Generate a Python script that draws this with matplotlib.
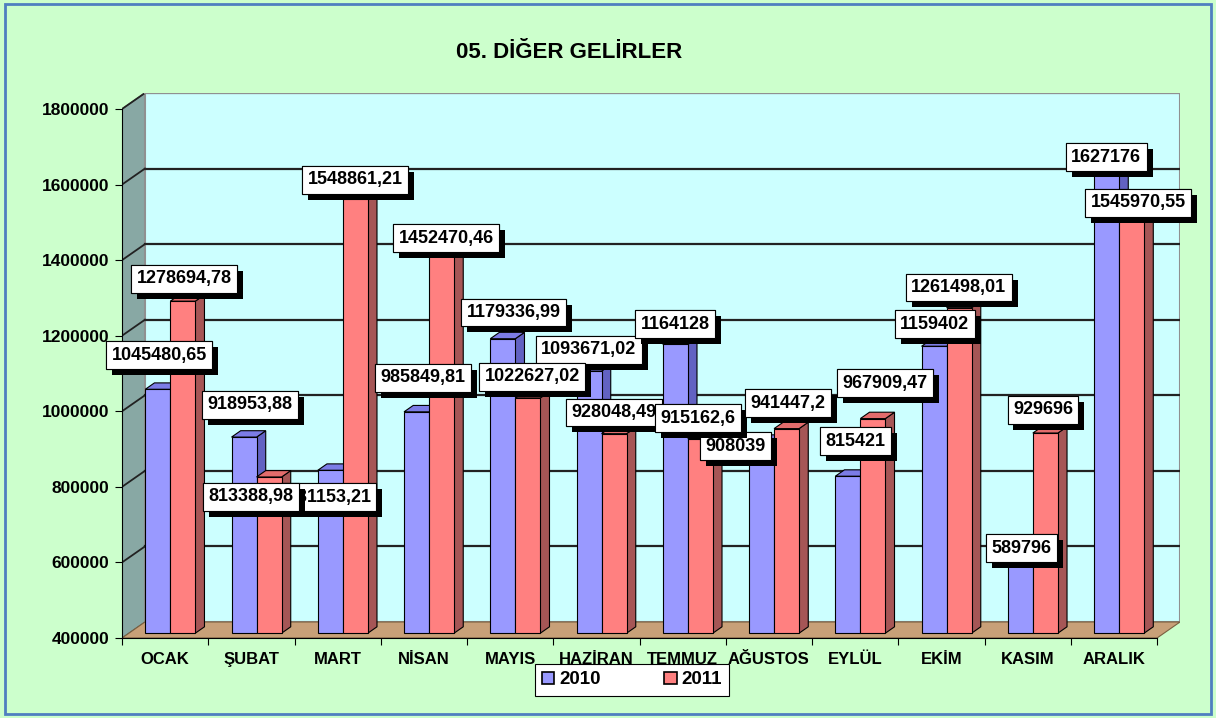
import matplotlib
matplotlib.use('Agg')
import matplotlib.pyplot as plt
from matplotlib.patches import Polygon, Rectangle, Patch
import matplotlib.patheffects as pe

plt.rcParams['font.family'] = ['Liberation Sans', 'DejaVu Sans']
plt.rcParams['font.weight'] = 'bold'

title = '05. DİĞER GELİRLER'
months = ['OCAK', 'ŞUBAT', 'MART', 'NİSAN', 'MAYIS', 'HAZİRAN', 'TEMMUZ',
          'AĞUSTOS', 'EYLÜL', 'EKİM', 'KASIM', 'ARALIK']
series_names = ['2010', '2011']
v2010 = [1045480.65, 918953.88, 831153.21, 985849.81, 1179336.99, 1093671.02,
         1164128, 908039, 815421, 1159402, 589796, 1627176]
v2011 = [1278694.78, 813388.98, 1548861.21, 1452470.46, 1022627.02, 928048.49,
         915162.6, 941447.2, 967909.47, 1261498.01, 929696, 1545970.55]
yticks = [400000, 600000, 800000, 1000000, 1200000, 1400000, 1600000, 1800000]

# label nudges (pixels) as Excel placed them
lbl_dx = [[-3, 1, -6, 2, 6, -5, -5, -31, 3, -4, -3, -5],
          [-3, -23, -5, 0, 0, -5, -7, -3, 8, -5, -7, 2]]
lbl_dy = [[31, 29, -30, 31, 23, 18, 17, -8, 32, 19, 10, 9],
          [19, -23, 16, -6, 18, 18, 17, 22, 32, 17, 20, -6]]

front = ['#9999FF', '#FF8080']
top_c = ['#7C7CE6', '#E26C6C']
side_c = ['#6262C2', '#A65656']

y0, y1 = 400000, 1800000
n = len(months)
DX = 0.266      # depth offset, category units
DY = 42340      # depth offset, value units
w, g0 = 0.29, 0.19
d0, dd = 0.3, 0.4

fig = plt.figure(figsize=(12.16, 7.18), dpi=100)
fig.patch.set_facecolor('#CCFFCC')
fig.add_artist(Rectangle((0.004, 0.005), 0.992, 0.99, transform=fig.transFigure,
                         fill=False, ec='#4F7FC0', lw=2))
fig.text(569 / 1216, 1 - 52 / 718, title, ha='center', va='center', fontsize=16,
         fontweight='bold')

ax = fig.add_axes([122 / 1216, 80 / 718, 1058 / 1216, 545 / 718])
ax.set_facecolor('none')
ax.set_xlim(0, n + DX)
ax.set_ylim(y0, y1 + DY)

# walls and floor
ax.add_patch(Polygon([(0, y0), (DX, y0 + DY), (DX, y1 + DY), (0, y1)],
                     fc='#88A8A4', ec='#555555', lw=0.8, zorder=1))
ax.add_patch(Rectangle((DX, y0 + DY), n, y1 - y0, fc='#CCFFFF', ec='#909090',
                       lw=1.5, zorder=1))
ax.add_patch(Polygon([(0, y0), (n, y0), (n + DX, y0 + DY), (DX, y0 + DY)],
                     fc='#C8A078', ec='#7A6040', lw=0.8, zorder=1))
for t in yticks[1:]:
    c = '#909090' if t == y1 else '#222222'
    ax.plot([0, DX], [t, t + DY], color='#222222', lw=1.3, zorder=2)
    ax.plot([DX, n + DX], [t + DY, t + DY], color=c, lw=1.6, zorder=2)

# bars
vals = [v2010, v2011]
for i in range(n):
    for s in range(2):
        v = vals[s][i]
        x0 = i + g0 + s * w + d0 * DX
        b = y0 + d0 * DY
        t = v + d0 * DY
        ax.add_patch(Polygon([(x0 + w, b), (x0 + w + dd * DX, b + dd * DY),
                              (x0 + w + dd * DX, t + dd * DY), (x0 + w, t)],
                             fc=side_c[s], ec='black', lw=0.8, zorder=3))
        ax.add_patch(Polygon([(x0, t), (x0 + w, t), (x0 + w + dd * DX, t + dd * DY),
                              (x0 + dd * DX, t + dd * DY)],
                             fc=top_c[s], ec='black', lw=0.8, zorder=3))
        ax.add_patch(Rectangle((x0, b), w, v - y0, fc=front[s], ec='black',
                               lw=0.8, zorder=3))


def fmt(v):
    s = f'{v:.2f}'.rstrip('0').rstrip('.')
    return s.replace('.', ',')


for s in range(2):
    for i in range(n):
        v = vals[s][i]
        xa = i + g0 + (s + 0.5) * w + 0.5 * DX
        ya = v + 0.5 * DY
        a = ax.annotate(fmt(v), xy=(xa, ya), xytext=(lbl_dx[s][i], lbl_dy[s][i]),
                        textcoords='offset pixels', ha='center', va='center',
                        fontsize=13, fontweight='bold', zorder=5 + s,
                        bbox=dict(boxstyle='square,pad=0.3', fc='white',
                                  ec='black', lw=0.8))
        a.get_bbox_patch().set_path_effects(
            [pe.withSimplePatchShadow(offset=(4.3, -4.3), shadow_rgbFace='black',
                                      alpha=1.0), pe.Normal()])

# axes
for sp in ['top', 'right']:
    ax.spines[sp].set_visible(False)
ax.spines['left'].set_bounds(y0, y1)
ax.spines['bottom'].set_bounds(0, n)
ax.spines['left'].set_zorder(4)
ax.spines['bottom'].set_zorder(4)
ax.set_yticks(yticks)
ax.set_yticklabels([str(t) for t in yticks], fontsize=12.5, fontweight='bold')
ax.set_xticks(range(n + 1))
ax.set_xticklabels([])
ax.set_xticks([i + 0.5 for i in range(n)], minor=True)
ax.set_xticklabels(months, minor=True, fontsize=12, fontweight='bold')
ax.tick_params(axis='x', which='minor', length=0, pad=10)
ax.tick_params(axis='x', which='major', length=5, direction='out')
ax.tick_params(axis='y', length=5, direction='out', pad=4)

handles = [Patch(fc=front[k], ec='black', lw=1.2) for k in range(2)]
leg = fig.legend(handles, series_names, loc='center', ncol=2,
                 bbox_to_anchor=(632 / 1216, 1 - 680 / 718), frameon=True,
                 fancybox=False, edgecolor='black', framealpha=1,
                 prop={'size': 13.5, 'weight': 'bold'}, handlelength=0.65,
                 handleheight=0.65, handletextpad=0.25, columnspacing=3.4,
                 borderpad=0.4, borderaxespad=0)
leg.get_frame().set_linewidth(0.8)

fig.savefig('out.png', dpi=100, facecolor=fig.get_facecolor())
